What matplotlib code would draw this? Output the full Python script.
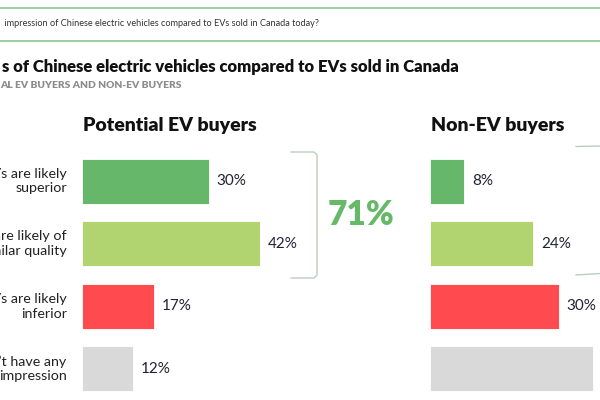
import matplotlib
matplotlib.use('Agg')
import matplotlib.pyplot as plt
from matplotlib.lines import Line2D

plt.rcParams['font.family'] = ['Lato', 'DejaVu Sans']

# Данные
categories = ['Chinese EVs are likely\nsuperior',
              'Chinese EVs are likely of\nsimilar quality',
              'Chinese EVs are likely\ninferior',
              'I don\u2019t have any\nimpression']
potential = [30, 42, 17, 12]
non_ev = [8, 24, 30, 38]
colors = ['#66b76a', '#b1d470', '#ff4a50', '#d9d9d9']
potential_total = 71

W, H = 600, 400
fig = plt.figure(figsize=(6, 4), dpi=100)


def fx(px):
    return px / W


def fy(py):
    return 1 - py / H


# Шапка: две зелёные линии и вопрос
for yy in (8, 41):
    fig.add_artist(Line2D([0, 1], [fy(yy), fy(yy)], color='#8cc68b', lw=1.2))
fig.text(fx(2), fy(24), ' impression of Chinese electric vehicles compared to EVs sold in Canada today?',
         fontsize=6.6, color='#333333', va='center', ha='left')
fig.text(fx(2), fy(67), 's of Chinese electric vehicles compared to EVs sold in Canada',
         fontsize=12, fontweight='heavy', color='#111111', va='center', ha='left')
fig.text(fx(0), fy(85), 'AL EV BUYERS AND NON-EV BUYERS',
         fontsize=7.4, fontweight='heavy', color='#8c8c8c', va='center', ha='left')

# Оси для столбиков
top, bottom = 150, 400
ax1 = fig.add_axes([fx(82), fy(bottom), fx(4.23 * 50), (bottom - top) / H])
ax2 = fig.add_axes([fx(430), fy(bottom), fx(4.3 * 50), (bottom - top) / H])

ypos = list(range(len(categories)))
for ax, vals in ((ax1, potential), (ax2, non_ev)):
    ax.barh(ypos, vals, height=0.72, color=colors, edgecolor='white', linewidth=0.6)
    ax.set_xlim(0, 50)
    ax.set_ylim(len(categories) - 0.5, -0.5)
    ax.axis('off')
    for y, v in zip(ypos, vals):
        ax.annotate(f'{v}%', (v, y), xytext=(5.5, 0), textcoords='offset points',
                    va='center', ha='left', fontsize=11, color='#222233',
                    annotation_clip=False)

for y, c in zip(ypos, categories):
    ax1.annotate(c, (0, y), xytext=(-11, 0), textcoords='offset points',
                 va='center', ha='right', fontsize=10.3, color='#222222',
                 linespacing=1.25, annotation_clip=False)

# Заголовки панелей
fig.text(fx(170), fy(126), 'Potential EV buyers', fontsize=14, fontweight='heavy',
         color='#111111', ha='center', va='center')
fig.text(fx(431), fy(125), 'Non-EV buyers', fontsize=14, fontweight='heavy',
         color='#111111', ha='left', va='center')

# Скобки и 71%
bc = '#bccdbf'
fig.add_artist(Line2D([fx(291), fx(314), fx(317), fx(317), fx(314), fx(291)],
                      [fy(152), fy(152), fy(155), fy(275), fy(278), fy(278)],
                      color=bc, lw=1))
fig.add_artist(Line2D([fx(576), fx(600)], [fy(146.5), fy(146)], color=bc, lw=1))
fig.add_artist(Line2D([fx(576), fx(600)], [fy(275), fy(273.5)], color=bc, lw=1))
fig.text(fx(361), fy(215), f'{potential_total}%', fontsize=24, fontweight='heavy',
         color='#67b96a', ha='center', va='center')

fig.savefig('out.png', dpi=100)
